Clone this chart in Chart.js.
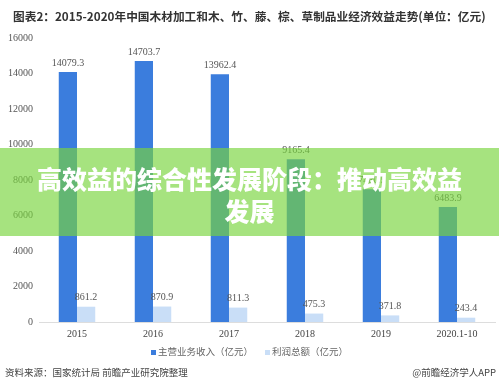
<!DOCTYPE html>
<html>
<head>
<meta charset="utf-8">
<script src="https://cdn.jsdelivr.net/npm/chart.js@4.4.1/dist/chart.umd.min.js"></script>
<style>
  html, body { margin: 0; padding: 0; background: #fff; }
  #wrap { position: relative; width: 499px; height: 385px; overflow: hidden; font-family: "Noto Sans CJK SC", sans-serif; }
  #chart { position: absolute; left: 0; top: 0; }
  .title { position: absolute; left: 13px; top: 7px; font-size: 11.7px; font-weight: bold; color: #333; white-space: nowrap; }
  .legend { position: absolute; top: 344px; left: 0; width: 499px; text-align: center; font-size: 9.5px; color: #666; white-space: nowrap; }
  .legend span.box { display: inline-block; width: 5px; height: 5px; margin-right: 2px; vertical-align: middle; }
  .legend .item { margin: 0 5px; }
  .foot { position: absolute; top: 365px; font-size: 9.5px; color: #444; white-space: nowrap; }
  .band { position: absolute; left: 0; top: 148px; width: 499px; height: 88px; background: rgba(120, 212, 60, 0.66); }
  .band div { color: #fff; font-weight: 900; font-size: 25px; text-align: center; line-height: 32px; padding-top: 14px; }
</style>
</head>
<body>
<div id="wrap">
  <canvas id="chart" width="499" height="385"></canvas>
  <div class="title">图表2：2015-2020年中国木材加工和木、竹、藤、棕、草制品业经济效益走势(单位：亿元)</div>
  <div class="legend">
    <span class="item"><span class="box" style="background:#3b7ddd"></span>主营业务收入（亿元）</span>
    <span class="item"><span class="box" style="background:#c9def7"></span>利润总额（亿元）</span>
  </div>
  <div class="foot" style="left:5px">资料来源：国家统计局 前瞻产业研究院整理</div>
  <div class="foot" style="right:3px">@前瞻经济学人APP</div>
  <div class="band"><div>高效益的综合性发展阶段：推动高效益<br>发展</div></div>
</div>
<script>
const years = ['2015', '2016', '2017', '2018', '2019', '2020.1-10'];
const revenue = [14079.3, 14703.7, 13962.4, 9165.4, 7480.5, 6483.9];
const profit = [861.2, 870.9, 811.3, 475.3, 371.8, 243.4];
const yTicks = [0, 2000, 4000, 6000, 8000, 10000, 12000, 14000, 16000];

const serif = '"Liberation Serif", "DejaVu Serif", serif';

// value labels above each bar
const barLabels = {
  id: 'barLabels',
  afterDatasetsDraw(chart) {
    const ctx = chart.ctx;
    ctx.save();
    ctx.font = '10px ' + serif;
    ctx.fillStyle = '#555';
    ctx.textAlign = 'center';
    ctx.textBaseline = 'bottom';
    chart.data.datasets.forEach((ds, i) => {
      chart.getDatasetMeta(i).data.forEach((bar, j) => {
        ctx.fillText(ds.data[j].toFixed(1), bar.x, bar.y - 4);
      });
    });
    ctx.restore();
  }
};

new Chart(document.getElementById('chart'), {
  type: 'bar',
  data: {
    labels: years,
    datasets: [
      { label: '主营业务收入（亿元）', data: revenue, backgroundColor: '#3b7ddd' },
      { label: '利润总额（亿元）', data: profit, backgroundColor: '#c9def7' }
    ]
  },
  options: {
    responsive: false,
    animation: false,
    layout: { padding: { top: 38, right: 4, bottom: 43, left: 0 } },
    plugins: { legend: { display: false }, tooltip: { enabled: false } },
    datasets: { bar: { categoryPercentage: 0.48, barPercentage: 1 } },
    scales: {
      x: {
        grid: { display: false, drawTicks: false },
        border: { color: '#ddd' },
        ticks: { color: '#444', font: { family: serif, size: 10 }, padding: 6, maxRotation: 0 },
        afterFit: s => { s.height = 20; }
      },
      y: {
        min: 0, max: 16000,
        grid: { display: false, drawTicks: false },
        border: { display: false },
        afterBuildTicks: s => { s.ticks = yTicks.map(v => ({ value: v })); },
        ticks: { color: '#555', font: { family: serif, size: 10 }, padding: 6, callback: v => String(v) },
        afterFit: s => { s.width = 39; }
      }
    }
  },
  plugins: [barLabels]
});
</script>
</body>
</html>
